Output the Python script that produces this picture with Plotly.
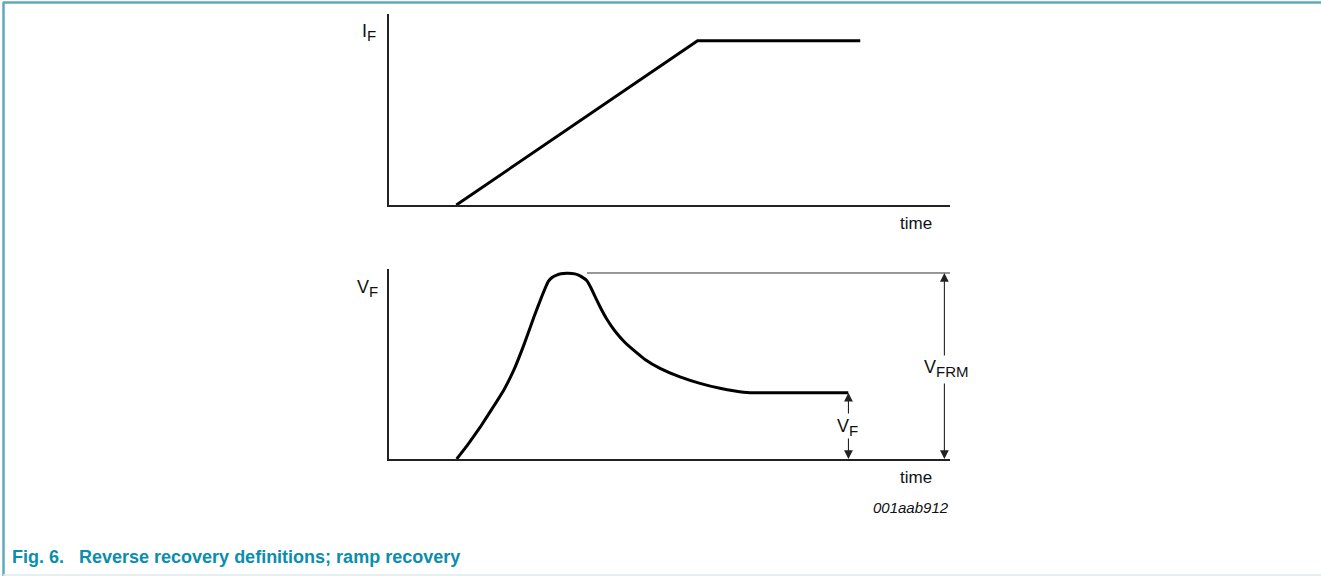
import plotly.graph_objects as go

# ---- data (abstract time / amplitude units) ----
t_if = [1.2, 5.5, 8.4]
i_f = [0.0, 0.86, 0.86]

t_vf = [1.207, 1.408, 1.622, 1.836, 2.050, 2.228, 2.406, 2.585, 2.727, 2.840, 2.906, 2.989,
        3.066, 3.168, 3.262, 3.346, 3.422, 3.524, 3.601, 3.702, 3.791, 3.881, 3.970, 4.059,
        4.207, 4.355, 4.563, 4.831, 5.187, 5.544, 5.900, 6.168, 6.435, 8.187]
v_f = [0.000, 0.077, 0.166, 0.264, 0.365, 0.470, 0.602, 0.749, 0.858, 0.935, 0.955, 0.968,
       0.975, 0.977, 0.976, 0.972, 0.961, 0.939, 0.900, 0.837, 0.784, 0.737, 0.697, 0.662,
       0.613, 0.574, 0.524, 0.477, 0.432, 0.398, 0.372, 0.358, 0.349, 0.349]

v_frm_level = 0.979
v_frm_line_t = [3.53, 10.0]
t_vfrm_arrow = 9.9
t_vf_arrow = 8.19
v_f_level = 0.349
# dimension arrow segments: (time, head level, tail level)
dim_arrows = [(t_vfrm_arrow, v_frm_level, 0.537), (t_vfrm_arrow, 0.0, 0.405),
              (t_vf_arrow, v_f_level, 0.232), (t_vf_arrow, 0.0, 0.116)]

CAPTION = "Fig. 6.\u00a0\u00a0\u00a0Reverse recovery definitions; ramp recovery"
TEAL = "#0b8dad"
BORDER = "#5faab9"
FONT = "Liberation Sans, Arial, sans-serif"

W, H = 1321, 576
xdom = [389 / W, 950 / W]

fig = go.Figure()
fig.add_trace(go.Scatter(x=t_if, y=i_f, mode="lines", xaxis="x", yaxis="y",
                         line=dict(color="#000", width=3), cliponaxis=False,
                         hoverinfo="skip"))
fig.add_trace(go.Scatter(x=t_vf, y=v_f, mode="lines", xaxis="x2", yaxis="y2",
                         line=dict(color="#000", width=3, shape="spline", smoothing=0.3),
                         cliponaxis=False, hoverinfo="skip"))
fig.add_trace(go.Scatter(x=v_frm_line_t, y=[v_frm_level, v_frm_level], mode="lines",
                         xaxis="x2", yaxis="y2", line=dict(color="#333", width=1),
                         cliponaxis=False, hoverinfo="skip"))

axis_common = dict(showline=True, linecolor="#222", linewidth=2, showgrid=False,
                   zeroline=False, showticklabels=False, ticks="", fixedrange=True)

fig.update_layout(
    width=W, height=H,
    margin=dict(l=0, r=0, t=0, b=0),
    paper_bgcolor="white", plot_bgcolor="white",
    showlegend=False,
    font=dict(family=FONT, size=18, color="#111"),
    xaxis=dict(domain=xdom, range=[0, 10], anchor="y", **axis_common),
    yaxis=dict(domain=[1 - 205 / H, 1 - 14 / H], range=[0, 1], anchor="x", **axis_common),
    xaxis2=dict(domain=xdom, range=[0, 10], anchor="y2", **axis_common),
    yaxis2=dict(domain=[1 - 459 / H, 1 - 269 / H], range=[0, 1], anchor="x2", **axis_common),
)

def sym(main, sub, subsize=15):
    return f"{main}<sub><span style='font-size:{subsize}px'>{sub}</span></sub>"

ann = []
def plabel(text, px, py, size=18):
    ann.append(dict(text=text, x=px / W, y=1 - py / H, xref="paper", yref="paper",
                    showarrow=False, xanchor="center", yanchor="middle",
                    font=dict(family=FONT, size=size, color="#111")))

plabel(sym("I", "F"), 369, 32)
plabel("time", 916, 223, size=17)
plabel(sym("V", "F"), 367, 288)
plabel("time", 916, 477, size=17)
plabel("<i>001aab912</i>", 911, 507, size=15)
plabel(sym("V", "FRM"), 946, 368)
plabel(sym("V", "F"), 847, 427)

for t, head, tail in dim_arrows:
    ann.append(dict(x=t, y=head, ax=t, ay=tail, xref="x2", yref="y2",
                    axref="x2", ayref="y2", text="", showarrow=True,
                    arrowhead=2, arrowsize=1.6, arrowwidth=1.1, arrowcolor="#222",
                    standoff=0, startstandoff=0))

ann.append(dict(text="<b>" + CAPTION + "</b>", x=10 / W, y=1 - 557 / H,
                xref="paper", yref="paper", xanchor="left", yanchor="middle",
                showarrow=False,
                font=dict(family=FONT, size=18, color=TEAL)))
fig.update_layout(annotations=ann)

fig.update_layout(shapes=[
    dict(type="line", xref="paper", yref="paper", x0=3 / W, x1=1, y0=1 - 2.5 / H, y1=1 - 2.5 / H,
         line=dict(color=BORDER, width=2.5)),
    dict(type="line", xref="paper", yref="paper", x0=3.5 / W, x1=3.5 / W, y0=0, y1=1 - 2 / H,
         line=dict(color=BORDER, width=2.5)),
    dict(type="line", xref="paper", yref="paper", x0=3 / W, x1=1, y0=1 - 575 / H, y1=1 - 575 / H,
         line=dict(color="#dbeaee", width=1.5)),
])

fig.write_html("out.html", config={"displayModeBar": False},
               post_script="document.body.style.margin='0';document.body.style.overflow='hidden';")
